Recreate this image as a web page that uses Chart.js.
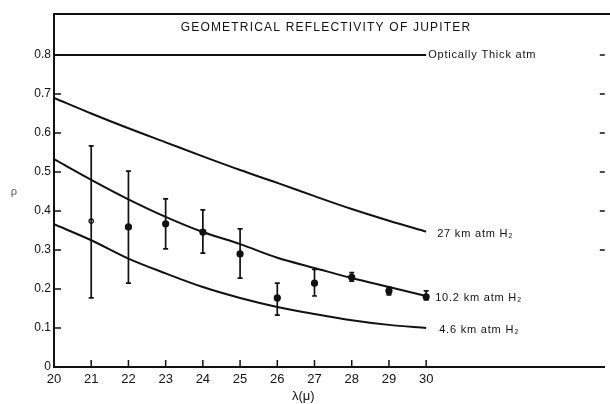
<!DOCTYPE html>
<html>
<head>
<meta charset="utf-8">
<script src="https://cdn.jsdelivr.net/npm/chart.js@4"></script>
<style>
    html, body { margin: 0; padding: 0; background: #fff; }
    #wrap { width: 610px; height: 404px; }
    canvas { display: block; }
</style>
</head>
<body>
<div id="wrap"><canvas id="reflChart"></canvas></div>
<script>
// ===== Data =====
const lambdas = [20, 21, 22, 23, 24, 25, 26, 27, 28, 29, 30];
const thickAtm = [0.8, 0.8, 0.8, 0.8, 0.8, 0.8, 0.8, 0.8, 0.8, 0.8, 0.8];
const atm27km = [0.69, 0.65, 0.612, 0.576, 0.54, 0.505, 0.472, 0.438, 0.405, 0.375, 0.347];
const atm102km = [0.533, 0.48, 0.43, 0.385, 0.346, 0.315, 0.28, 0.254, 0.228, 0.205, 0.182];
const atm46km = [0.366, 0.325, 0.278, 0.24, 0.205, 0.177, 0.154, 0.136, 0.12, 0.108, 0.10];

const obsLambda = [21, 22, 23, 24, 25, 26, 27, 28, 29, 30];
const obsValue = [0.374, 0.359, 0.367, 0.346, 0.29, 0.177, 0.215, 0.23, 0.195, 0.18];
const obsLow = [0.177, 0.215, 0.303, 0.292, 0.228, 0.133, 0.182, 0.22, 0.185, 0.172];
const obsHigh = [0.567, 0.502, 0.431, 0.403, 0.354, 0.215, 0.25, 0.242, 0.205, 0.195];

const curveLabels = ["Optically Thick atm", "27 km atm H\u2082", "10.2 km atm H\u2082", "4.6 km atm H\u2082"];
const titleText = "GEOMETRICAL REFLECTIVITY OF JUPITER";
const xTitle = "\u03bb(\u03bc)";
const yTitle = "\u03c1";

const FONT = "'Liberation Sans', Arial, sans-serif";

function toPoints(values) {
    return lambdas.map((x, i) => ({ x: x, y: values[i] }));
}

function curve(values) {
    return {
        type: "line",
        data: toPoints(values),
        borderColor: "#111",
        borderWidth: 2,
        pointRadius: 0,
        cubicInterpolationMode: "monotone",
        fill: false
    };
}

// ===== Extra drawing: error bars, inward ticks, frame, labels =====
const decorPlugin = {
    id: "decor",
    afterDatasetsDraw(chart) {
        const ctx = chart.ctx;
        const xs = chart.scales.x;
        const ys = chart.scales.y;
        const area = chart.chartArea;

        ctx.save();
        ctx.strokeStyle = "#111";
        ctx.fillStyle = "#111";

        // error bars
        ctx.lineWidth = 1.7;
        obsLambda.forEach((lam, i) => {
            const px = xs.getPixelForValue(lam);
            const top = ys.getPixelForValue(obsHigh[i]);
            const bot = ys.getPixelForValue(obsLow[i]);
            ctx.beginPath();
            ctx.moveTo(px, top); ctx.lineTo(px, bot);
            ctx.moveTo(px - 2.5, top); ctx.lineTo(px + 2.5, top);
            ctx.moveTo(px - 2.5, bot); ctx.lineTo(px + 2.5, bot);
            ctx.stroke();
        });

        // top frame line
        ctx.lineWidth = 2;
        ctx.beginPath();
        ctx.moveTo(area.left - 1, area.top);
        ctx.lineTo(chart.width, area.top);
        ctx.stroke();

        // inward tick marks
        ctx.lineWidth = 1.5;
        ys.ticks.forEach(t => {
            if (t.value <= 0 || t.value > 0.85) return;
            const py = ys.getPixelForValue(t.value);
            ctx.beginPath();
            ctx.moveTo(area.left, py); ctx.lineTo(area.left + 7, py);
            if (t.value >= 0.3) {
                ctx.moveTo(area.right - 5, py); ctx.lineTo(area.right, py);
            }
            ctx.stroke();
        });
        xs.ticks.forEach(t => {
            if (t.value <= 20 || t.value > 30) return;
            const px = xs.getPixelForValue(t.value);
            ctx.beginPath();
            ctx.moveTo(px, area.bottom); ctx.lineTo(px, area.bottom - 7);
            ctx.stroke();
        });

        // title
        ctx.textBaseline = "middle";
        ctx.textAlign = "center";
        ctx.font = "12px " + FONT;
        ctx.letterSpacing = "1.2px";
        ctx.fillText(titleText, 326, 28);

        // curve labels
        ctx.textAlign = "left";
        ctx.font = "11px " + FONT;
        ctx.letterSpacing = "0.8px";
        const x30 = xs.getPixelForValue(30);
        ctx.fillText(curveLabels[0], x30 + 2, ys.getPixelForValue(thickAtm[10]));
        ctx.fillText(curveLabels[1], x30 + 11, ys.getPixelForValue(atm27km[10]) + 2);
        ctx.fillText(curveLabels[2], x30 + 9, ys.getPixelForValue(atm102km[10]) + 2);
        ctx.fillText(curveLabels[3], x30 + 13, ys.getPixelForValue(atm46km[10]) + 2);

        // axis titles
        ctx.letterSpacing = "0px";
        ctx.textAlign = "center";
        ctx.font = "13px " + FONT;
        ctx.fillText(xTitle, xs.getPixelForValue(26.7), 396);
        ctx.fillStyle = "#555";
        ctx.font = "11px " + FONT;
        ctx.fillText(yTitle, 14, ys.getPixelForValue(0.45));

        ctx.restore();
    }
};

// ===== Chart =====
new Chart(document.getElementById("reflChart"), {
    data: {
        datasets: [
            curve(thickAtm),
            curve(atm27km),
            curve(atm102km),
            curve(atm46km),
            {
                type: "scatter",
                data: obsLambda.map((x, i) => ({ x: x, y: obsValue[i] })),
                pointRadius: obsLambda.map((x, i) => i === 0 ? 2.2 : 3),
                pointBackgroundColor: obsLambda.map((x, i) => i === 0 ? "#fff" : "#111"),
                pointBorderColor: "#111",
                pointBorderWidth: 1.2
            }
        ]
    },
    options: {
        responsive: true,
        maintainAspectRatio: false,
        devicePixelRatio: 1,
        animation: false,
        layout: { padding: { top: 14, right: 4, left: 0, bottom: 0 } },
        plugins: {
            legend: { display: false },
            tooltip: { enabled: false }
        },
        scales: {
            x: {
                type: "linear",
                min: 20,
                max: 34.8,
                afterFit: s => { s.height = 37; },
                grid: { display: false, drawTicks: false },
                border: { display: true, color: "#111", width: 2 },
                ticks: {
                    stepSize: 1,
                    includeBounds: false,
                    autoSkip: false,
                    maxRotation: 0,
                    padding: 5,
                    color: "#111",
                    font: { family: FONT, size: 13 },
                    callback: v => (v <= 30 ? String(v) : "")
                }
            },
            y: {
                type: "linear",
                min: 0,
                max: 0.905,
                afterFit: s => { s.width = 54; },
                grid: { display: false, drawTicks: false },
                border: { display: true, color: "#111", width: 2 },
                ticks: {
                    stepSize: 0.1,
                    includeBounds: false,
                    padding: 3,
                    color: "#111",
                    font: { family: FONT, size: 12 },
                    callback: v => (v === 0 ? "0" : (v > 0.85 ? "" : v.toFixed(1)))
                }
            }
        }
    },
    plugins: [decorPlugin]
});
</script>
</body>
</html>
